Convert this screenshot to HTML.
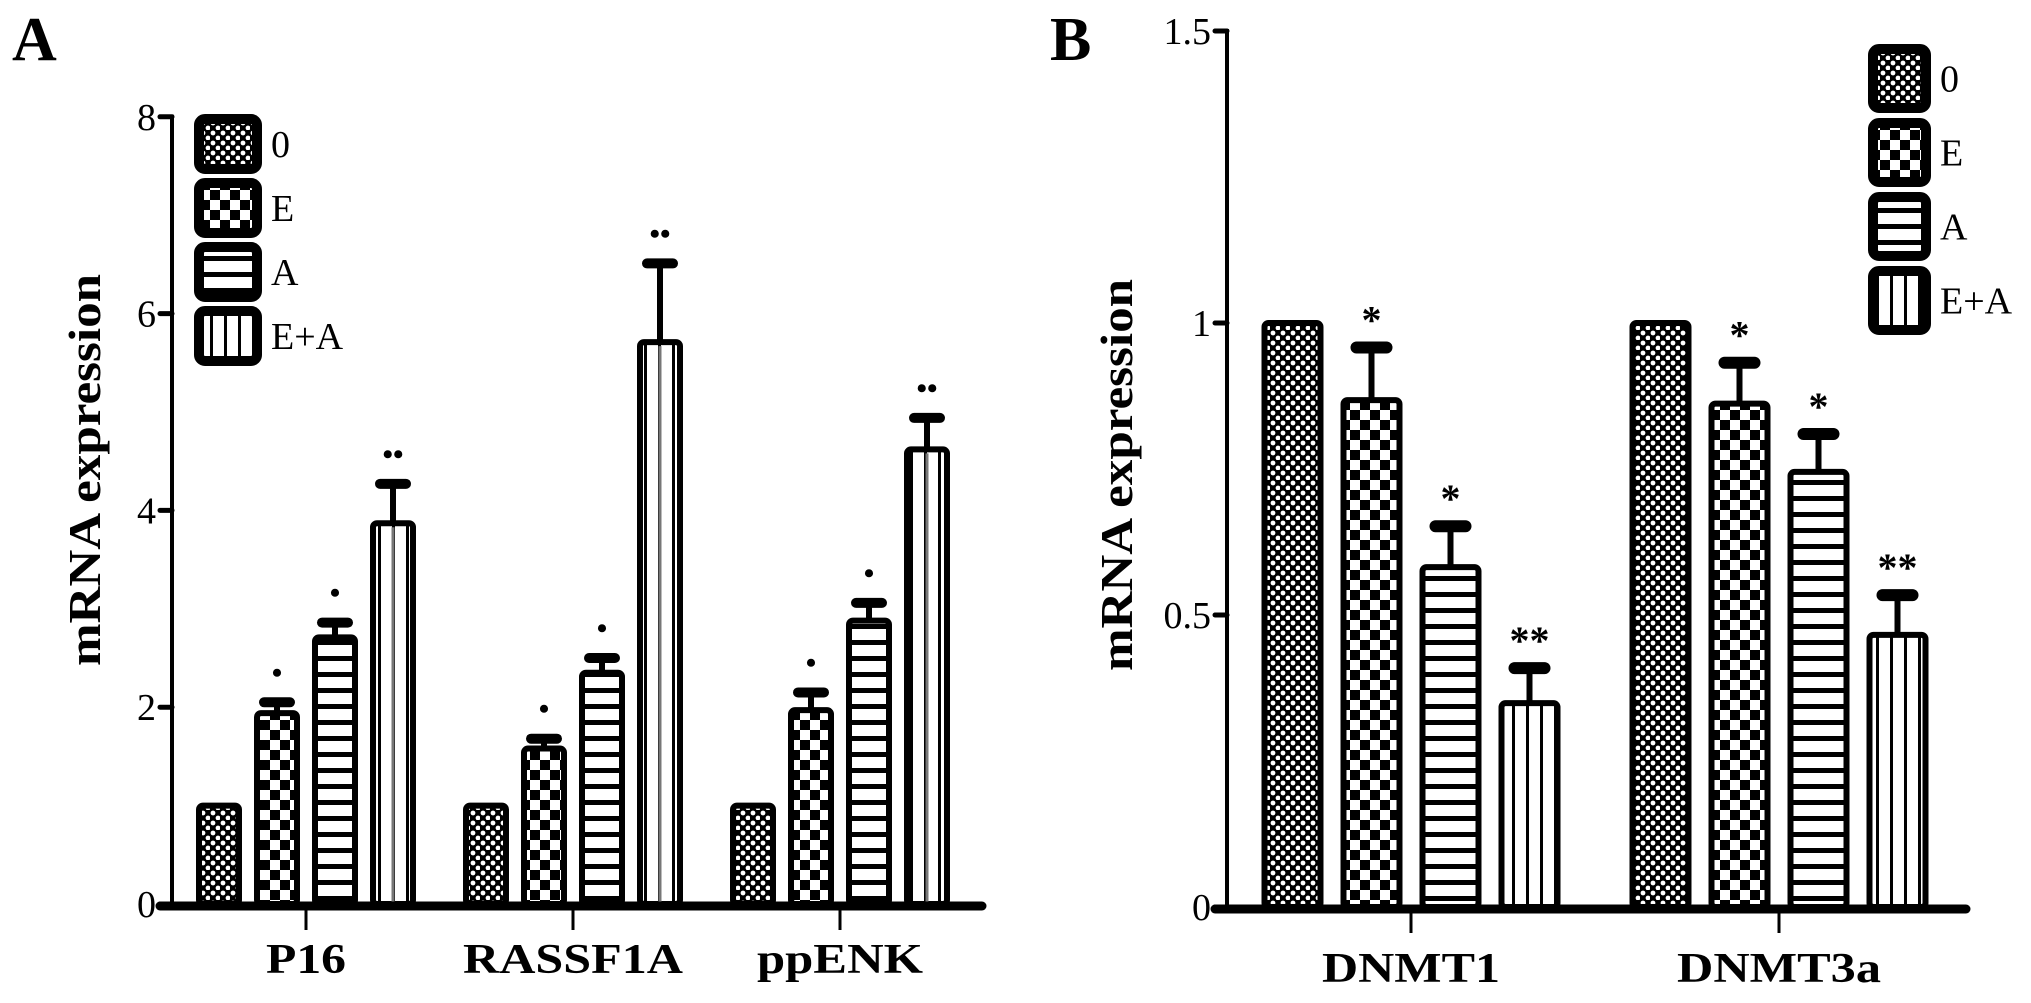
<!DOCTYPE html>
<html><head><meta charset="utf-8"><style>
html,body{margin:0;padding:0;background:#fff;}
svg{display:block;}
text{font-family:"Liberation Serif","DejaVu Serif",serif;fill:#000;}
</style></head><body>
<svg id="fig" width="2031" height="1003" viewBox="0 0 2031 1003" xmlns="http://www.w3.org/2000/svg">
<defs>
<pattern id="p0" width="10" height="10" patternUnits="userSpaceOnUse"><rect width="10" height="10" fill="#000"/><circle cx="3" cy="3" r="2.4" fill="#fff"/><circle cx="8" cy="8" r="2.4" fill="#fff"/></pattern>
<pattern id="pE" width="20" height="20" patternUnits="userSpaceOnUse"><rect width="20" height="20" fill="#fff"/><rect x="0" y="0" width="10" height="10" fill="#000"/><rect x="10" y="10" width="10" height="10" fill="#000"/></pattern>
<pattern id="pA" width="16" height="16" patternUnits="userSpaceOnUse"><rect width="16" height="16" fill="#fff"/><rect y="0" width="16" height="5" fill="#000"/></pattern>
<pattern id="pEA" width="14" height="14" patternUnits="userSpaceOnUse"><rect width="14" height="14" fill="#fff"/><rect x="0" width="3" height="14" fill="#000"/></pattern>
</defs>
<g id="panelA"></g>
<g id="panelB"></g>
</svg>
<script>
// Panel A data
const catsA = ["P16", "RASSF1A", "ppENK"];
const seriesNames = ["0", "E", "A", "E+A"];
const valsA0 = [1, 1, 1];
const valsAE = [1.94, 1.58, 1.97];
const valsAA = [2.71, 2.35, 2.88];
const valsAEA = [3.87, 5.71, 4.62];
const errA0 = [0, 0, 0];
const errAE = [0.11, 0.10, 0.18];
const errAA = [0.15, 0.15, 0.18];
const errAEA = [0.40, 0.80, 0.32];
const sigA = [["", "•", "•", "••"], ["", "•", "•", "••"], ["", "•", "•", "••"]];
const ticksA = [0, 2, 4, 6, 8];
// Panel B data
const catsB = ["DNMT1", "DNMT3a"];
const valsB0 = [1, 1];
const valsBE = [0.868, 0.862];
const valsBA = [0.582, 0.745];
const valsBEA = [0.349, 0.466];
const errB0 = [0, 0];
const errBE = [0.09, 0.07];
const errBA = [0.07, 0.065];
const errBEA = [0.06, 0.068];
const sigB = [["", "*", "*", "**"], ["", "*", "*", "**"]];
const ticksB = [0, 0.5, 1, 1.5];
const tickLabB = ["0", "0.5", "1", "1.5"];

const NS = "http://www.w3.org/2000/svg";
function mk(parent, tag, attrs, txt) {
  const e = document.createElementNS(NS, tag);
  for (const k in attrs) e.setAttribute(k, attrs[k]);
  if (txt !== undefined) e.textContent = txt;
  parent.appendChild(e);
  return e;
}
const fills = ["url(#p0)", "url(#pE)", "url(#pA)", "url(#pEA)"];

function drawPanel(g, cfg) {
  const y = v => cfg.y0 - (v - cfg.vmin) * cfg.ppu;
  let t = mk(g, "text", {x: cfg.letterX, y: cfg.letterY, "font-size": 62, "font-weight": "bold"}, cfg.letter);
  
  
  t = mk(g, "text", {x: 0, y: 0, "font-size": 46, "font-weight": "bold", "text-anchor": "middle",
    transform: `translate(${cfg.ylabX},${cfg.ylabY}) rotate(-90)`, textLength: 392, lengthAdjust: "spacingAndGlyphs"}, "mRNA expression");
  
  
  cfg.cats.forEach((c, gi) => {
    const cx = cfg.g0 + gi * cfg.gstep;
    cfg.vals.forEach((arr, si) => {
      const bx = cx + (si - 1.5) * cfg.bstep - cfg.bw / 2;
      const top = y(arr[gi]);
      const r = mk(g, "rect", {x: bx, y: top, width: cfg.bw, height: cfg.y0 - top, fill: fills[si], stroke: "#000", "stroke-width": 6, rx: 4});
      
      
      if (cfg.centerLine && si === 3) {
        mk(g, "line", {x1: bx + cfg.bw / 2, x2: bx + cfg.bw / 2, y1: top + 4, y2: cfg.y0, stroke: "#777", "stroke-width": 3});
      }
      const e = cfg.errs[si][gi];
      if (e > 0) {
        const ey = y(arr[gi] + e);
        const ex = bx + cfg.bw / 2;
        const el = mk(g, "line", {x1: ex, x2: ex, y1: top, y2: ey, stroke: "#000", "stroke-width": 6});
        
        
        const cap = mk(g, "line", {x1: ex - cfg.capW / 2, x2: ex + cfg.capW / 2, y1: ey, y2: ey, stroke: "#000", "stroke-width": cfg.capT, "stroke-linecap": "round"});
        
        
        const s = cfg.sig[gi][si];
        if (s) {
          const st = mk(g, "text", {x: ex, y: ey - cfg.sigOff, "font-size": cfg.sigSize, "font-weight": "bold", "text-anchor": "middle"}, s);
          
          
        }
      }
    });
    mk(g, "line", {x1: cx, x2: cx, y1: cfg.y0, y2: cfg.y0 + 26, stroke: "#000", "stroke-width": 3});
    const lt = mk(g, "text", {x: cx, y: cfg.catY, "font-size": 42, "font-weight": "bold", "text-anchor": "middle", textLength: cfg.catW[gi], lengthAdjust: "spacingAndGlyphs"}, c);
    
    
  });
  const ya = mk(g, "line", {x1: cfg.ax, x2: cfg.ax, y1: y(cfg.vmax) - 2, y2: cfg.y0, stroke: "#000", "stroke-width": 4});
  
  
  const xa = mk(g, "line", {x1: cfg.xaL, x2: cfg.xaR, y1: cfg.y0 + 2, y2: cfg.y0 + 2, stroke: "#000", "stroke-width": 9, "stroke-linecap": "round"});
  
  
  cfg.ticks.forEach((v, i) => {
    mk(g, "line", {x1: cfg.ax - 12, x2: cfg.ax, y1: y(v), y2: y(v), stroke: "#000", "stroke-width": 5, "stroke-linecap": "round"});
    const tl = mk(g, "text", {x: cfg.ax - 16, y: y(v) + 13, "font-size": 38, "text-anchor": "end"}, cfg.tickLab[i]);
    
    
  });
  seriesNames.forEach((n, i) => {
    const ly = cfg.legY + i * cfg.legStep;
    const lr = mk(g, "rect", {x: cfg.legX, y: ly, width: cfg.legW, height: cfg.legH, fill: fills[i], stroke: "#000", "stroke-width": 10, rx: 6});
    
    
    const lt = mk(g, "text", {x: cfg.legX + cfg.legW + 14, y: ly + cfg.legH / 2 + 13, "font-size": 38}, n);
    
    
  });
}

drawPanel(document.getElementById("panelA"), {
  letter: "A", letterX: 12, letterY: 60,
  ylabX: 100, ylabY: 470,
  cats: catsA, vals: [valsA0, valsAE, valsAA, valsAEA], errs: [errA0, errAE, errAA, errAEA], sig: sigA,
  y0: 904, ppu: 98.4, vmin: 0, vmax: 8, ticks: ticksA, tickLab: ticksA.map(String),
  ax: 172, xaL: 160, xaR: 982,
  g0: 306, gstep: 267, bstep: 58, bw: 40, centerLine: true,
  capW: 26, capT: 10, sigOff: 20, sigSize: 30,
  catY: 973, catW: [80, 220, 166],
  legX: 199, legY: 119, legStep: 64, legW: 58, legH: 50
});
drawPanel(document.getElementById("panelB"), {
  letter: "B", letterX: 1050, letterY: 60,
  ylabX: 1132, ylabY: 475,
  cats: catsB, vals: [valsB0, valsBE, valsBA, valsBEA], errs: [errB0, errBE, errBA, errBEA], sig: sigB,
  y0: 907, ppu: 584, vmin: 0, vmax: 1.5, ticks: ticksB, tickLab: tickLabB,
  ax: 1227, xaL: 1215, xaR: 1966,
  g0: 1411, gstep: 368, bstep: 79, bw: 56, centerLine: false,
  capW: 30, capT: 12, sigOff: 14, sigSize: 40,
  catY: 982, catW: [178, 204],
  legX: 1873, legY: 49, legStep: 74, legW: 53, legH: 59
});
</script>
</body></html>
